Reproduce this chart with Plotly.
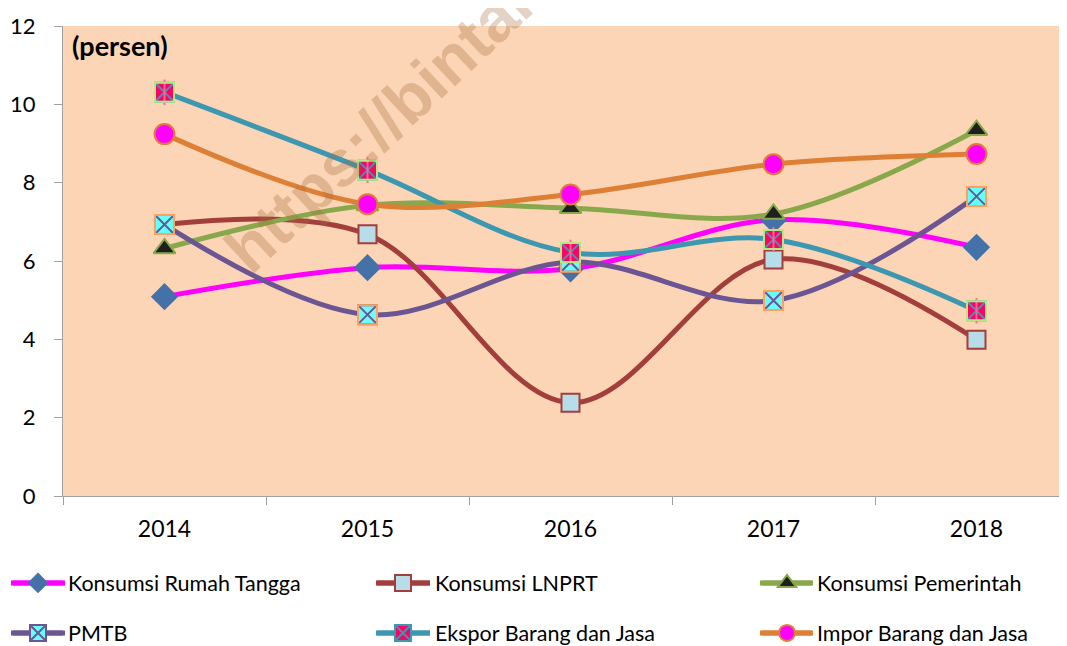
import plotly.graph_objects as go

years = ["2014", "2015", "2016", "2017", "2018"]

rumah_tangga = [5.09, 5.83, 5.80, 7.05, 6.35]
lnprt = [6.93, 6.68, 2.38, 6.04, 3.99]
pemerintah = [6.32, 7.42, 7.35, 7.20, 9.34]
pmtb = [6.93, 4.63, 5.97, 4.99, 7.65]
ekspor = [10.31, 8.32, 6.22, 6.55, 4.73]
impor = [9.24, 7.45, 7.70, 8.47, 8.73]

y_ticks = [0, 2, 4, 6, 8, 10, 12]

FONT = "Lato, Carlito, Calibri, sans-serif"

W, H = 1059, 646
ML, MT, MB, MR = 55, 18, 158, 0
OFF = 8  # page body offset
PW = W - ML - MR
PH = H - MT - MB


def paper_x(sx):
    return (sx - OFF - ML) / PW


def paper_y(sy):
    return (H - MB - (sy - OFF)) / PH


series = [
    ("Konsumsi Rumah Tangga", rumah_tangga, "#FF00FF",
     dict(symbol="diamond", size=21, color="#4472A8", line=dict(width=0)), None),
    ("Konsumsi LNPRT", lnprt, "#A23F3C",
     dict(symbol="square", size=18, color="#B7DDE8", line=dict(width=2, color="#A23F3C")), None),
    ("Konsumsi Pemerintah", pemerintah, "#88A84B",
     dict(symbol="triangle-up", size=19, color="#1F1F1F", line=dict(width=2, color="#88A84B")), None),
    ("PMTB", pmtb, "#6B5592",
     dict(symbol="square-x", size=19, color="#66FFFF", line=dict(width=2, color="#6B5592")),
     "#66FFFF"),
    ("Ekspor Barang dan Jasa", ekspor, "#3D97B0",
     dict(symbol="square-x", size=19, color="#FF0066", line=dict(width=2, color="#3D97B0")),
     "#F23A78"),
    ("Impor Barang dan Jasa", impor, "#DE7F36",
     dict(symbol="circle", size=20, color="#FF00FF", line=dict(width=2, color="#DE7F36")), None),
]

# legend slot positions (screen px): marker centre x, text start x, line start/end
legend_cols = [(38, 68, 11, 65), (403, 435, 377, 430), (787, 817, 760, 813)]
legend_rows = [583, 633]

fig = go.Figure()
layout_legends = {}
for i, (name, vals, lc, mk, border) in enumerate(series):
    lg = "legend" if i == 0 else f"legend{i + 1}"
    fig.add_trace(go.Scatter(
        x=years, y=vals, name=name, mode="lines+markers", legend=lg,
        line=dict(color=lc, width=5, shape="spline", smoothing=1.0),
        marker=mk, cliponaxis=False,
    ))
    if name.startswith("Ekspor"):
        fig.add_trace(go.Scatter(
            x=years, y=vals, mode="markers", showlegend=False, hoverinfo="skip",
            marker=dict(symbol="line-ns-open", size=18, line=dict(width=2, color=lc)),
            cliponaxis=False,
        ))
    if border:
        fig.add_trace(go.Scatter(
            x=years, y=vals, mode="markers", showlegend=False, hoverinfo="skip",
            marker=dict(symbol="square-open", size=19, line=dict(width=2, color=border)),
            cliponaxis=False,
        ))
    mx, tx, l0, l1 = legend_cols[i % 3]
    ry = legend_rows[i // 3]
    iw = 2 * (tx - mx - 5)
    fig.add_shape(type="line", xref="paper", yref="paper",
                  x0=paper_x(l0), x1=paper_x(l1), y0=paper_y(ry), y1=paper_y(ry),
                  line=dict(color=lc, width=5))
    layout_legends[lg] = dict(
        xref="container", yref="container", xanchor="left", yanchor="middle",
        x=(mx - 5 - iw / 2 - OFF) / W, y=1 - (ry - OFF) / H,
        itemwidth=iw, font=dict(family=FONT, size=21.5, color="black"),
        bgcolor="rgba(0,0,0,0)",
    )

fig.add_annotation(
    text="(persen)", xref="paper", yref="paper", x=paper_x(70), y=paper_y(45),
    xanchor="left", yanchor="middle", showarrow=False,
    font=dict(family=FONT, size=27, color="black", weight="bold"),
)

fig.add_annotation(
    text="https://bintan", xref="paper", yref="paper",
    x=paper_x(386), y=paper_y(119), xanchor="center", yanchor="middle", showarrow=False,
    textangle=-43,
    font=dict(family="Liberation Sans, Arial, sans-serif", size=65,
              color="rgba(165,105,60,0.30)", weight="bold"),
)

fig.update_layout(
    width=W, height=H,
    margin=dict(l=ML, r=MR, t=MT, b=MB, autoexpand=False),
    paper_bgcolor="white", plot_bgcolor="#FBD5B5",
    font=dict(family=FONT, size=20, color="black"),
    showlegend=True,
    xaxis=dict(
        type="category", range=[-0.5, -0.5 + PW / 203.0], showgrid=False, automargin=False,
        showline=True, linecolor="#A0A0A0", linewidth=1,
        ticks="outside", tickson="boundaries", ticklen=8, tickcolor="#A0A0A0",
        tickfont=dict(family=FONT, size=23), ticklabelstandoff=12,
    ),
    yaxis=dict(
        range=[0, 12], tickvals=y_ticks, showgrid=False, zeroline=False, automargin=False,
        showline=True, linecolor="#A0A0A0", linewidth=1,
        ticks="outside", ticklen=8, tickcolor="#A0A0A0",
        tickfont=dict(family=FONT, size=22), ticklabelstandoff=14,
    ),
    **layout_legends,
)

fig.write_html("out.html")
